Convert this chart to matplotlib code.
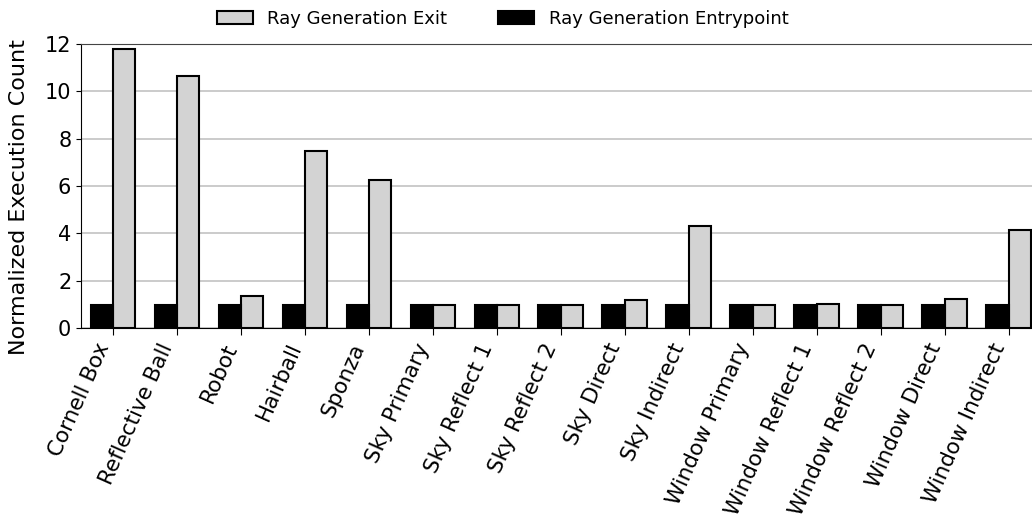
import numpy as np
import matplotlib
matplotlib.use("Agg")
from matplotlib import pyplot as plt

# Cenas avaliadas
scenes = ["Cornell Box", "Reflective Ball", "Robot", "Hairball", "Sponza",
          "Sky Primary", "Sky Reflect 1", "Sky Reflect 2", "Sky Direct", "Sky Indirect",
          "Window Primary", "Window Reflect 1", "Window Reflect 2", "Window Direct", "Window Indirect"]
# Contagem normalizada de execuções
exit_counts = [11.76, 10.62, 1.36, 7.49, 6.24,
               0.97, 0.97, 0.97, 1.19, 4.31,
               0.97, 1.03, 0.97, 1.25, 4.14]
entry_counts = [1.0] * len(scenes)

fig = plt.figure(figsize=(10.32, 5.29), dpi=100)
ax = fig.add_axes([0.0785, 0.3794, 0.93, 0.538])

x = np.arange(len(scenes))
w = 0.35
ax.bar(x + w / 2, exit_counts, w, color="lightgray", edgecolor="black",
       linewidth=1.5, label="Ray Generation Exit", zorder=3)
ax.bar(x - w / 2, entry_counts, w, color="black", edgecolor="black",
       linewidth=1.5, label="Ray Generation Entrypoint", zorder=3)

ax.set_xlim(-0.5, len(scenes) - 0.5)
ax.set_ylim(0, 12)
ax.set_yticks([0, 2, 4, 6, 8, 10, 12])
ax.yaxis.grid(True, color="#bdbdbd", linewidth=1.1, zorder=0)
ax.spines["top"].set_color("#444444")
ax.spines["right"].set_visible(False)

ax.set_xticks(x)
ax.set_xticklabels(scenes, rotation=66, ha="right", fontsize=15.5)
ax.tick_params(axis="y", labelsize=15)
ax.tick_params(axis="x", length=5)
ax.set_ylabel("Normalized Execution Count", fontsize=16)
ax.yaxis.set_label_coords(-0.054, 0.46)

fig.legend(loc="upper center", bbox_to_anchor=(0.487, 1.012), ncol=2, frameon=False,
           fontsize=13, handlelength=2.0, columnspacing=2.8)

fig.savefig("out.png", dpi=100)
